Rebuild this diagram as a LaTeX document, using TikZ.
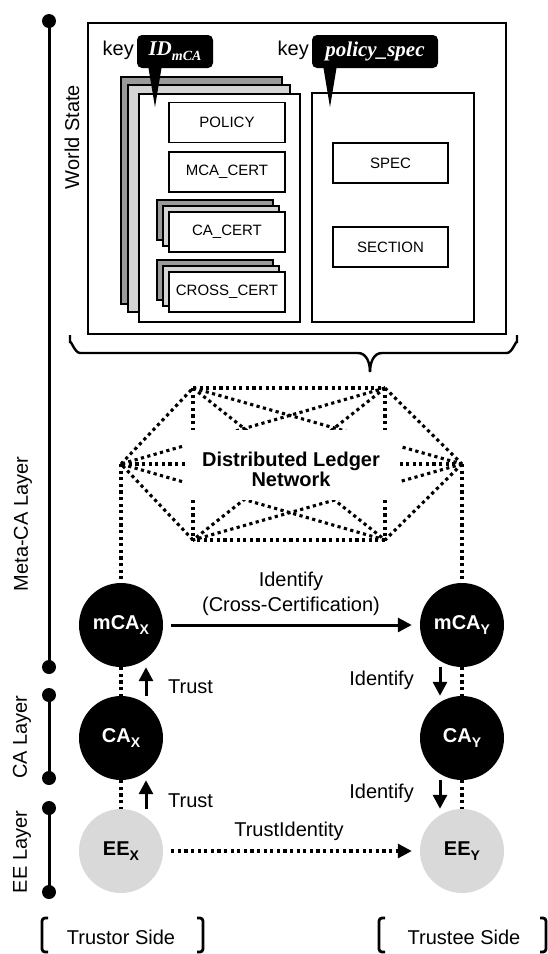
\documentclass[tikz,border=0pt]{standalone}
\usepackage{fontspec}
\setmainfont{Liberation Sans}
\newfontfamily\keyfont{Liberation Serif}
\usetikzlibrary{arrows.meta}
\definecolor{eegray}{HTML}{D9D9D9}
\definecolor{darkg}{HTML}{9A9A9A}
\definecolor{lightg}{HTML}{D4D4D4}
\begin{document}
\begin{tikzpicture}[x=1pt,y=-1pt,
  lbl/.style={font=\fontsize{20}{24}\selectfont, inner sep=0pt},
  ibox/.style={draw, line width=1.5pt, fill=white, font=\fontsize{15}{18}\selectfont, inner sep=0pt, minimum width=116pt, minimum height=40pt},
  bigbox/.style={draw, line width=2.2pt, fill=white, inner sep=0pt, anchor=north west},
  shad/.style={draw, line width=1.5pt},
  circ/.style={circle, fill=black, minimum size=84pt, inner sep=0pt, text=white, font=\fontsize{20}{20}\selectfont\bfseries},
  eec/.style={circ, fill=eegray, text=black},
  net/.style={line width=3.1pt, dash pattern=on 3.2pt off 3.4pt},
  arr/.style={line width=3pt, -{Triangle[length=14pt,width=14pt]}},
  layer/.style={line width=3pt},
  keybox/.style={fill=black, rounded corners=5pt, text=white, inner sep=0pt, minimum height=33pt, font=\keyfont\bfseries\itshape\fontsize{21}{21}\selectfont},
  brk/.style={line width=2.8pt, rounded corners=3pt}
]
\useasboundingbox (0,0) rectangle (547,954);

% ---------- World State ----------
\node[bigbox, line width=2.4pt, minimum width=418pt, minimum height=311pt] (ws) at (87,22) {};
\node[lbl, rotate=90] (wslbl) at (72,137) {World State};

% left stack
\draw[shad, fill=darkg] (121,77) rectangle (282,304);
\draw[shad, fill=lightg] (128,85) rectangle (290,312);
\node[bigbox, minimum width=161pt, minimum height=228pt] (idrec) at (138,93) {};
\node[ibox] (policy) at (227,122.5) {POLICY};
\node[ibox] (mcacert) at (227,172) {MCA\_CERT};
\draw[shad, fill=darkg] (157,200) rectangle (273,240);
\draw[shad, fill=lightg] (163,206) rectangle (279,246);
\node[ibox] (cacert) at (227,232) {CA\_CERT};
\draw[shad, fill=darkg] (157,260) rectangle (273,300);
\draw[shad, fill=lightg] (163,266) rectangle (279,306);
\node[ibox] (crosscert) at (227,292) {CROSS\_CERT};

% right box
\node[bigbox, minimum width=162pt, minimum height=229pt] (specrec) at (311,92) {};
\node[ibox, minimum width=115pt] (spec) at (390.5,163) {SPEC};
\node[ibox, minimum width=115pt] (section) at (390.5,247) {SECTION};

% keys
\node[keybox, minimum width=76pt] (k1) at (175,51.5) {ID\raisebox{-5pt}{\fontsize{14}{14}\selectfont mCA}};
\fill ([xshift=-27pt,yshift=3pt]k1.south) -- ([xshift=-13pt,yshift=3pt]k1.south) -- ([xshift=-20pt,yshift=-39pt]k1.south) -- cycle;
\node[lbl, anchor=east] (key1) at (134,50) {key};
\node[keybox, minimum width=126pt] (k2) at (375,51.5) {policy\_spec};
\fill ([xshift=-52pt,yshift=3pt]k2.south) -- ([xshift=-38pt,yshift=3pt]k2.south) -- ([xshift=-45pt,yshift=-39pt]k2.south) -- cycle;
\node[lbl, anchor=east] (key2) at (309,50) {key};

% brace
\draw[line width=2.4pt] (70,335) -- (70,343) to[out=90,in=180] (80,353) -- (358,353) to[out=0,in=90] (370,372);
\draw[line width=2.4pt] (370,372) to[out=90,in=180] (382,353) -- (507,353) to[out=0,in=90] (517,343) -- (517,335);

% ---------- Network ----------
\coordinate (TL) at (193,388);
\coordinate (TR) at (385,388);
\coordinate (L) at (121,464);
\coordinate (R) at (462,464);
\coordinate (BL) at (193,540);
\coordinate (BR) at (385,540);
\foreach \a/\b in {TL/TR,TR/R,R/BR,BR/BL,BL/L,L/TL,TL/R,TL/BR,TL/BL,TR/BR,TR/BL,TR/L,R/BL,R/L,BR/L}
  \draw[net] (\a) -- (\b);
\fill[white] (185,430) rectangle (400,500);
\node[align=center, inner sep=0pt, font=\fontsize{20}{17}\selectfont\bfseries] (dln) at (291,469) {Distributed Ledger\\Network};

% ---------- Circles ----------
\node[circ] (mcax) at (121,625) {mCA\raisebox{-5pt}{\fontsize{14}{14}\selectfont X}};
\node[circ] (cax) at (121,738) {CA\raisebox{-5pt}{\fontsize{14}{14}\selectfont X}};
\node[eec] (eex) at (121,851) {EE\raisebox{-5pt}{\fontsize{14}{14}\selectfont X}};
\node[circ] (mcay) at (462,625) {mCA\raisebox{-5pt}{\fontsize{14}{14}\selectfont Y}};
\node[circ] (cay) at (462,738) {CA\raisebox{-5pt}{\fontsize{14}{14}\selectfont Y}};
\node[eec] (eey) at (462,851) {EE\raisebox{-5pt}{\fontsize{14}{14}\selectfont Y}};

\draw[net] (L) -- (mcax.north);
\draw[net] (R) -- (mcay.north);
\draw[net] (mcax.south) -- (cax.north);
\draw[net] (cax.south) -- (eex.north);
\draw[net] (mcay.south) -- (cay.north);
\draw[net] (cay.south) -- (eey.north);

% arrows
\draw[arr, shorten <=8pt, shorten >=8pt] (mcax.east) -- (mcay.west);
\node[lbl, align=center, font=\fontsize{20}{25}\selectfont] (idcc) at (291,594) {Identify\\(Cross-Certification)};
\draw[arr] ([xshift=25pt]cax.north) -- ([xshift=25pt]mcax.south);
\draw[arr] ([xshift=25pt]eex.north) -- ([xshift=25pt]cax.south);
\node[lbl, anchor=west] (t1) at (168,687) {Trust};
\node[lbl, anchor=west] (t2) at (168,801) {Trust};
\draw[arr] ([xshift=-22pt]mcay.south) -- ([xshift=-22pt]cay.north);
\draw[arr] ([xshift=-22pt]cay.south) -- ([xshift=-22pt]eey.north);
\node[lbl, anchor=east] (i1) at (414,680) {Identify};
\node[lbl, anchor=east] (i2) at (414,793) {Identify};
\draw[net, shorten <=8pt, shorten >=8pt, -{Triangle[length=14pt,width=14pt]}] (eex.east) -- (eey.west);
\node[lbl] (ti) at (289,831) {TrustIdentity};

% ---------- Layers ----------
\fill (49,21) circle (7pt);
\draw[layer] (49,21) -- (49,667);
\fill (49,667) circle (7pt);
\node[lbl, rotate=90] (meta) at (23,524) {Meta-CA Layer};
\fill (49,695) circle (7pt);
\draw[layer] (49,695) -- (49,778);
\fill (49,778) circle (7pt);
\node[lbl, rotate=90] (calbl) at (22,737) {CA Layer};
\fill (49,808) circle (7pt);
\draw[layer] (49,808) -- (49,892);
\fill (49,892) circle (7pt);
\node[lbl, rotate=90] (eelbl) at (22,852) {EE Layer};

% ---------- Sides ----------
\draw[brk] (48,918) -- (42,918) -- (42,952) -- (48,952);
\draw[brk] (197,918) -- (203,918) -- (203,952) -- (197,952);
\node[lbl] (trustor) at (121,937) {Trustor Side};
\draw[brk] (385,918) -- (379,918) -- (379,952) -- (385,952);
\draw[brk] (540,918) -- (546,918) -- (546,952) -- (540,952);
\node[lbl] (trustee) at (464,937) {Trustee Side};
\end{tikzpicture}
\end{document}
